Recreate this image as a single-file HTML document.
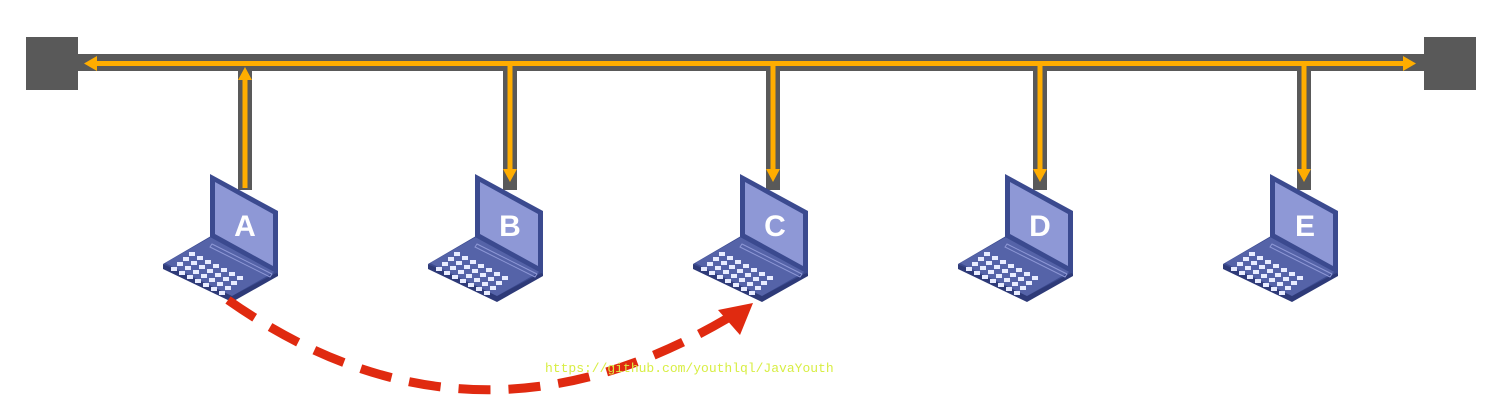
<!DOCTYPE html>
<html><head><style>html,body{margin:0;padding:0;background:#fff;width:1494px;height:414px;overflow:hidden}</style></head>
<body>
<svg width="1494" height="414" viewBox="0 0 1494 414" xmlns="http://www.w3.org/2000/svg">
<defs>
<g id="lap">
  <polygon points="-82,90 -34,62 33,98 -13,127" fill="#3b4a8f"/>
  <polygon points="-82,90 -13,122 33,98 33,102 -13,128 -82,95" fill="#2e3a78"/>
  <polygon points="-80,89 -34,63 31,97 -13,122" fill="#5563a8"/>
  <polygon points="-35,0 33,37 33,100 -35,63" fill="#3b4a8f"/>
  <polygon points="-30,8 28,40 28,92 -30,60" fill="#8e98d6"/>
  <g fill="#e8ecff">
    <rect x="-62" y="83" width="6" height="4"/><rect x="-54" y="87" width="6" height="4"/><rect x="-46" y="91" width="6" height="4"/><rect x="-38" y="95" width="6" height="4"/><rect x="-30" y="99" width="6" height="4"/><rect x="-22" y="103" width="6" height="4"/><rect x="-14" y="107" width="6" height="4"/>
    <rect x="-68" y="88" width="6" height="4"/><rect x="-60" y="92" width="6" height="4"/><rect x="-52" y="96" width="6" height="4"/><rect x="-44" y="100" width="6" height="4"/><rect x="-36" y="104" width="6" height="4"/><rect x="-28" y="108" width="6" height="4"/><rect x="-20" y="112" width="6" height="4"/>
    <rect x="-74" y="93" width="6" height="4"/><rect x="-66" y="97" width="6" height="4"/><rect x="-58" y="101" width="6" height="4"/><rect x="-50" y="105" width="6" height="4"/><rect x="-42" y="109" width="6" height="4"/><rect x="-34" y="113" width="6" height="4"/><rect x="-26" y="117" width="6" height="4"/>
    <rect x="-56" y="78" width="6" height="4"/><rect x="-48" y="82" width="6" height="4"/><rect x="-40" y="86" width="6" height="4"/><rect x="-32" y="90" width="6" height="4"/><rect x="-24" y="94" width="6" height="4"/><rect x="-16" y="98" width="6" height="4"/><rect x="-8" y="102" width="6" height="4"/>
  </g>
  <polygon points="-33,70 27,100 25,103 -35,73" fill="none" stroke="#8e98d6" stroke-width="1"/>
</g>
</defs>
<rect x="26" y="37" width="52" height="53" fill="#595959"/>
<rect x="1424" y="37" width="52" height="53" fill="#595959"/>
<rect x="60" y="54" width="1380" height="17" fill="#595959"/>
<rect x="238" y="62" width="14" height="128" fill="#595959"/>
<rect x="503" y="62" width="14" height="128" fill="#595959"/>
<rect x="766" y="62" width="14" height="128" fill="#595959"/>
<rect x="1033" y="62" width="14" height="128" fill="#595959"/>
<rect x="1297" y="62" width="14" height="128" fill="#595959"/>
<g fill="#ffad00">
<rect x="92" y="61" width="1312" height="5"/>
<polygon points="84,63.5 97,56 97,71"/>
<polygon points="1416,63.5 1403,56 1403,71"/>
<rect x="242.5" y="75" width="5" height="113"/>
<polygon points="245,67 238,80 252,80"/>
<rect x="507.5" y="63" width="5" height="110"/>
<polygon points="510,182 503,169 517,169"/>
<rect x="770.5" y="63" width="5" height="110"/>
<polygon points="773,182 766,169 780,169"/>
<rect x="1037.5" y="63" width="5" height="110"/>
<polygon points="1040,182 1033,169 1047,169"/>
<rect x="1301.5" y="63" width="5" height="110"/>
<polygon points="1304,182 1297,169 1311,169"/>
</g>
<use href="#lap" x="245" y="174"/>
<use href="#lap" x="510" y="174"/>
<use href="#lap" x="775" y="174"/>
<use href="#lap" x="1040" y="174"/>
<use href="#lap" x="1305" y="174"/>
<g font-family="Liberation Sans, sans-serif" font-weight="bold" font-size="30" fill="#fff" text-anchor="middle">
<text x="245" y="236">A</text><text x="510" y="236">B</text><text x="775" y="236">C</text><text x="1040" y="236">D</text><text x="1305" y="236">E</text>
</g>
<path d="M228,300 Q 470,470 728,318" fill="none" stroke="#e02a10" stroke-width="9" stroke-dasharray="32,18"/>
<polygon points="753,303 718,310 740,335" fill="#e02a10"/>
<text x="545" y="372" font-family="Liberation Mono, monospace" font-size="13" fill="#d8ee44">https://github.com/youthlql/JavaYouth</text>
</svg>
</body></html>
